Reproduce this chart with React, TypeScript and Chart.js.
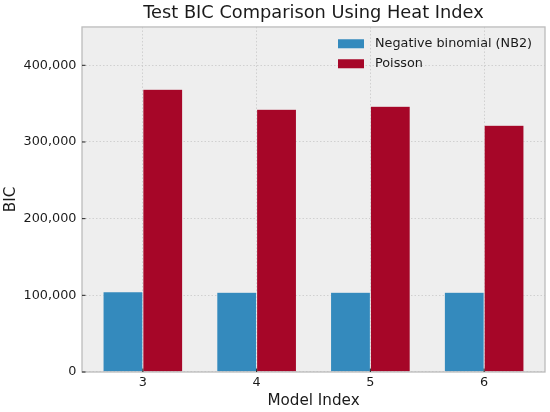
import React, { useEffect, useRef } from 'react';
import { Chart, registerables, Plugin } from 'chart.js';

Chart.register(...registerables);

// data
const modelIndex = [3, 4, 5, 6];
const nb2Bic = [104800, 103900, 103900, 103900];
const poissonBic = [368800, 342700, 346500, 321800];
const yTicks = [0, 100000, 200000, 300000, 400000];
const seriesLabels = ['Negative binomial (NB2)', 'Poisson'];
const seriesColors = ['#348ABD', '#A60628'];

const FONT = "'DejaVu Sans', sans-serif";
const TEXT = '#1a1a1a';
const BAR_W = 0.35;

// matplotlib-like x limits: bar extent plus 5% margin
const xLo = modelIndex[0] - BAR_W;
const xHi = modelIndex[modelIndex.length - 1] + BAR_W;
const xPad = (xHi - xLo) * 0.05;

const bmhAxes: Plugin<'bar'> = {
  id: 'bmhAxes',
  beforeDraw(chart) {
    const { ctx, chartArea: a } = chart;
    ctx.save();
    ctx.fillStyle = '#eeeeee';
    ctx.fillRect(a.left, a.top, a.width, a.height);
    ctx.restore();
  },
  afterDatasetsDraw(chart) {
    const { ctx, chartArea: a, scales } = chart;
    ctx.save();
    // frame
    ctx.strokeStyle = '#bcbcbc';
    ctx.lineWidth = 1.3;
    ctx.strokeRect(a.left, a.top, a.width, a.height);

    // inward tick marks
    ctx.strokeStyle = '#222';
    ctx.lineWidth = 1;
    ctx.beginPath();
    scales.x.ticks.forEach((t) => {
      const px = scales.x.getPixelForValue(t.value);
      ctx.moveTo(px, a.bottom);
      ctx.lineTo(px, a.bottom - 3.5);
    });
    scales.y.ticks.forEach((t) => {
      const py = scales.y.getPixelForValue(t.value);
      ctx.moveTo(a.left, py);
      ctx.lineTo(a.left + 3.5, py);
    });
    ctx.stroke();

    // legend, upper right inside the axes
    ctx.font = `12.8px ${FONT}`;
    ctx.textBaseline = 'middle';
    ctx.textAlign = 'left';
    chart.data.datasets.forEach((ds, i) => {
      const y = a.top + 12.3 + i * 20;
      ctx.fillStyle = ds.backgroundColor as string;
      ctx.fillRect(a.right - 207, y, 26, 9);
      ctx.fillStyle = TEXT;
      ctx.fillText(ds.label ?? '', a.right - 170, y + 4.7);
    });
    ctx.restore();
  },
};

const App: React.FC = () => {
  const canvasRef = useRef<HTMLCanvasElement>(null);
  const chartRef = useRef<Chart<'bar', { x: number; y: number }[]> | null>(null);

  useEffect(() => {
    document.body.style.margin = '0';
    if (!canvasRef.current) return;
    if (chartRef.current) chartRef.current.destroy();

    Chart.defaults.font.family = FONT;
    Chart.defaults.color = TEXT;

    const series = [nb2Bic, poissonBic];

    chartRef.current = new Chart(canvasRef.current, {
      type: 'bar',
      data: {
        datasets: series.map((vals, i) => ({
          label: seriesLabels[i],
          data: modelIndex.map((m, j) => ({ x: m, y: vals[j] })),
          backgroundColor: seriesColors[i],
          borderColor: '#eeeeee',
          borderWidth: 0.5,
          categoryPercentage: BAR_W * 2,
          barPercentage: 1,
        })),
      },
      options: {
        animation: false,
        responsive: true,
        maintainAspectRatio: false,
        layout: { padding: { left: 0, right: 5, top: 0, bottom: 0 } },
        plugins: {
          legend: { display: false },
          tooltip: { enabled: false },
          title: {
            display: true,
            text: 'Test BIC Comparison Using Heat Index',
            fullSize: false,
            color: TEXT,
            font: { size: 17.8, weight: 'normal', lineHeight: 1.2 },
            padding: { top: 2.8, bottom: 2.8 },
          },
        },
        scales: {
          x: {
            type: 'linear',
            offset: false,
            min: xLo - xPad,
            max: xHi + xPad,
            afterBuildTicks: (s) => {
              s.ticks = modelIndex.map((v) => ({ value: v }));
            },
            afterFit: (s) => {
              s.height = 40;
            },
            ticks: {
              color: TEXT,
              font: { size: 12.8, family: FONT },
              padding: 2.5,
              callback: (v) => String(v),
            },
            grid: {
              offset: false,
              color: '#c8c8c8',
              lineWidth: 0.8,
              drawTicks: false,
            },
            border: { display: false, dash: [1.5, 2] },
            title: {
              display: true,
              text: 'Model Index',
              color: TEXT,
              font: { size: 15.2, lineHeight: 1.2 },
              padding: { top: 0, bottom: 1.5 },
            },
          },
          y: {
            min: 0,
            max: 450000,
            afterBuildTicks: (s) => {
              s.ticks = yTicks.map((v) => ({ value: v }));
            },
            afterFit: (s) => {
              s.width = 82;
            },
            ticks: {
              color: TEXT,
              font: { size: 12.8, family: FONT },
              padding: 5.5,
              callback: (v) => Number(v).toLocaleString('en-US'),
            },
            grid: {
              color: '#c8c8c8',
              lineWidth: 0.8,
              drawTicks: false,
            },
            border: { display: false, dash: [1.5, 2] },
            title: {
              display: true,
              text: 'BIC',
              color: TEXT,
              font: { size: 15.2, lineHeight: 1.2 },
              padding: { top: 1.6, bottom: 0 },
            },
          },
        },
      },
      plugins: [bmhAxes],
    });

    return () => {
      if (chartRef.current) {
        chartRef.current.destroy();
        chartRef.current = null;
      }
    };
  }, []);

  return (
    <div style={{ width: 550, height: 412, position: 'relative' }}>
      <canvas ref={canvasRef}></canvas>
    </div>
  );
};

export default App;
